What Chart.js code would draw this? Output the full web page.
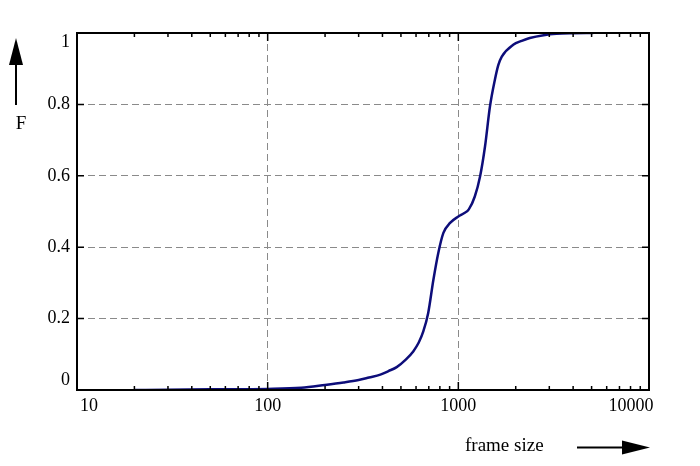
<!DOCTYPE html>
<html>
<head>
<meta charset="utf-8">
<script src="https://cdn.jsdelivr.net/npm/chart.js@4.4.1/dist/chart.umd.min.js"></script>
<style>
  html, body { margin: 0; padding: 0; background: #fff; }
  #wrap { width: 700px; height: 466px; position: relative; }
</style>
</head>
<body>
<div id="wrap"><canvas id="cdfChart"></canvas></div>
<script>
// ===== DATA =====
const frameSizes = [20, 30, 50, 100, 150, 200, 250, 300, 340, 390, 430, 475, 530, 580, 620, 655, 695,
                    740, 785, 835, 905, 1000, 1070, 1135, 1220, 1300, 1380, 1465, 1555, 1620, 1690,
                    1940, 2150, 2370, 2800, 3270, 4000, 5100];
const cdfValues  = [0, 0.001, 0.002, 0.003, 0.006, 0.014, 0.021, 0.028, 0.035, 0.043, 0.053, 0.064,
                    0.085, 0.108, 0.133, 0.164, 0.216, 0.309, 0.384, 0.44, 0.468, 0.486, 0.495,
                    0.506, 0.542, 0.598, 0.682, 0.794, 0.869, 0.91, 0.934, 0.967, 0.978, 0.986,
                    0.994, 0.998, 0.9995, 1.0];
const xTicks = [10, 100, 1000, 10000];
const yTicks = [0, 0.2, 0.4, 0.6, 0.8, 1];
const yTickLabels = ["0", "0.2", "0.4", "0.6", "0.8", "1"];

const FONT = "Liberation Serif";

// ===== FRAME, TICKS, LABELS =====
const framePlugin = {
    id: "frame",
    afterDraw(chart) {
        const ctx = chart.ctx;
        const a = chart.chartArea;
        const xs = chart.scales.x;
        const ys = chart.scales.y;
        ctx.save();
        ctx.strokeStyle = "#000";
        ctx.lineWidth = 2;
        ctx.strokeRect(a.left, a.top, a.right - a.left, a.bottom - a.top);

        // minor + major ticks on x (inward, bottom and top)
        ctx.lineWidth = 1.5;
        for (let d = 10; d < 10000; d *= 10) {
            for (let m = 1; m <= 9; m++) {
                const v = d * m;
                if (v <= 10) continue;
                const px = xs.getPixelForValue(v);
                const len = m === 1 ? 8 : 4;
                ctx.beginPath();
                ctx.moveTo(px, a.bottom); ctx.lineTo(px, a.bottom - len);
                ctx.moveTo(px, a.top); ctx.lineTo(px, a.top + len);
                ctx.stroke();
            }
        }
        // y ticks (inward, left and right)
        yTicks.forEach(v => {
            if (v === 0 || v === 1) return;
            const py = ys.getPixelForValue(v);
            ctx.beginPath();
            ctx.moveTo(a.left, py); ctx.lineTo(a.left + 7, py);
            ctx.moveTo(a.right, py); ctx.lineTo(a.right - 7, py);
            ctx.stroke();
        });

        // tick labels
        ctx.fillStyle = "#000";
        ctx.font = "18px '" + FONT + "'";
        ctx.textBaseline = "middle";
        ctx.textAlign = "right";
        yTicks.forEach((v, i) => {
            let py = ys.getPixelForValue(v);
            if (v === 0) py -= 10;
            if (v === 1) py += 9;
            ctx.fillText(yTickLabels[i], a.left - 7, py);
        });
        ctx.textAlign = "center";
        xTicks.forEach(v => {
            let px = xs.getPixelForValue(v);
            if (v === 10) px += 12;
            if (v === 10000) px -= 18;
            ctx.fillText(String(v), px, a.bottom + 16);
        });

        // axis titles with arrows
        ctx.font = "19px '" + FONT + "'";
        ctx.textAlign = "center";
        ctx.fillText("F", 21, 124);
        ctx.textAlign = "left";
        ctx.fillText("frame size", 465, 446);

        ctx.lineWidth = 2;
        ctx.beginPath();
        ctx.moveTo(16, 105); ctx.lineTo(16, 55);
        ctx.moveTo(577, 447.5); ctx.lineTo(630, 447.5);
        ctx.stroke();
        ctx.beginPath();
        ctx.moveTo(16, 38); ctx.lineTo(9, 65); ctx.lineTo(23, 65); ctx.closePath();
        ctx.fill();
        ctx.beginPath();
        ctx.moveTo(650, 447.5); ctx.lineTo(622, 440.5); ctx.lineTo(622, 454.5); ctx.closePath();
        ctx.fill();
        ctx.restore();
    }
};

const gridColor = ctx => {
    const v = ctx.tick && ctx.tick.value;
    if (ctx.scale.axis === "x") return (v === 100 || v === 1000) ? "#8a8a8a" : "rgba(0,0,0,0)";
    return (v > 0.01 && v < 0.99) ? "#8a8a8a" : "rgba(0,0,0,0)";
};

new Chart(document.getElementById("cdfChart"), {
    type: "line",
    data: {
        datasets: [{
            data: frameSizes.map((x, i) => ({ x: x, y: cdfValues[i] })),
            borderColor: "#0d0d7a",
            borderWidth: 2.5,
            pointRadius: 0,
            fill: false,
            cubicInterpolationMode: "monotone"
        }]
    },
    options: {
        responsive: true,
        maintainAspectRatio: false,
        animation: false,
        layout: { padding: { left: 77, right: 51, top: 33, bottom: 76 } },
        plugins: { legend: { display: false }, tooltip: { enabled: false } },
        scales: {
            x: {
                type: "logarithmic",
                min: 10, max: 10000,
                afterBuildTicks: s => { s.ticks = xTicks.map(v => ({ value: v })); },
                ticks: { display: false },
                border: { display: false, dash: [7, 4] },
                grid: { color: gridColor, lineWidth: 1, drawTicks: false }
            },
            y: {
                min: 0, max: 1,
                afterBuildTicks: s => { s.ticks = yTicks.map(v => ({ value: v })); },
                ticks: { display: false },
                border: { display: false, dash: [7, 4] },
                grid: { color: gridColor, lineWidth: 1, drawTicks: false }
            }
        }
    },
    plugins: [framePlugin]
});
</script>
</body>
</html>
